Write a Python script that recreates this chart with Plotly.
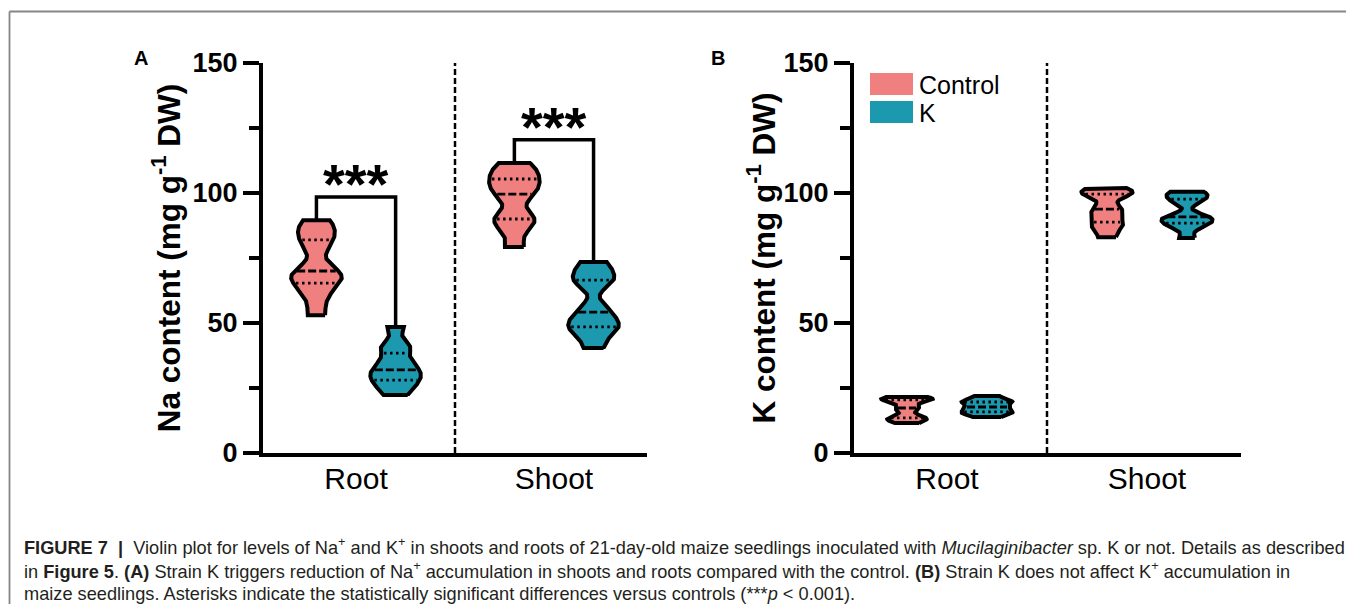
import numpy as np
import plotly.graph_objects as go

# ---------------- data ----------------
CATEGORIES = ["Root", "Shoot"]
SERIES = ["Control", "K"]

# Panel A: Na content (mg g-1 DW), individual samples
NA_ROOT_CONTROL = [53.0, 60.0, 65.0, 66.5, 69.0, 71.0, 79.0, 83.0, 86.0, 89.5]
NA_ROOT_K = [22.3, 25.5, 27.5, 29.5, 31.0, 33.0, 35.5, 39.4, 42.0, 48.5]
NA_SHOOT_CONTROL = [79.2, 86.0, 89.5, 91.5, 98.0, 101.2, 103.5, 106.0, 108.5, 111.5]
NA_SHOOT_K = [40.4, 46.0, 48.0, 50.0, 52.5, 55.9, 65.0, 67.0, 70.0, 73.5]

# Panel B: K content (mg g-1 DW), individual samples
K_ROOT_CONTROL = [11.5, 12.8, 13.2, 14.4, 16.6, 18.0, 19.8, 20.6, 21.0, 21.5]
K_ROOT_K = [13.8, 15.0, 15.6, 16.4, 17.3, 18.1, 19.1, 19.8, 20.5, 21.9]
K_SHOOT_CONTROL = [83.0, 86.5, 88.2, 90.6, 92.8, 94.8, 98.7, 99.9, 100.8, 101.9]
K_SHOOT_K = [82.7, 87.0, 88.0, 89.6, 90.3, 91.3, 96.5, 98.0, 99.6, 100.5]

SIGNIF_A = ["***", "***"]  # per category in panel A

Y_TICKS = [0, 50, 100, 150]
Y_MINOR_TICKS = [25, 75, 125]
Y_TITLE_A = "Na content (mg g<sup>-1</sup> DW)"
Y_TITLE_B = "K content (mg g<sup>-1</sup> DW)"

CAPTION_1 = ("<b>FIGURE 7  |</b>  Violin plot for levels of Na<sup>+</sup> and K<sup>+</sup> in shoots and roots of "
             "21-day-old maize seedlings inoculated with <i>Mucilaginibacter</i> sp. K or not. Details as described")
CAPTION_2 = ("in <b>Figure 5</b>. <b>(A)</b> Strain K triggers reduction of Na<sup>+</sup> accumulation in shoots and "
             "roots compared with the control. <b>(B)</b> Strain K does not affect K<sup>+</sup> accumulation in")
CAPTION_3 = ("maize seedlings. Asterisks indicate the statistically significant differences versus controls "
             "(***<i>p</i> &lt; 0.001).")

# ---------------- styling ----------------
W, H = 1346, 604
COLORS = {"Control": "#F07F80", "K": "#1C98AF"}
OFFSETS = {"Control": -0.2, "K": 0.2}
HALF_W = 0.128
BW_FRAC = 0.09
FONT = "Liberation Sans, Arial, sans-serif"


def fx(px):
    return px / W


def fy(py):
    return 1 - py / H


fig = go.Figure()

panels = {
    "A": dict(xa="x", ya="y",
              data={("Root", "Control"): NA_ROOT_CONTROL, ("Root", "K"): NA_ROOT_K,
                    ("Shoot", "Control"): NA_SHOOT_CONTROL, ("Shoot", "K"): NA_SHOOT_K}),
    "B": dict(xa="x2", ya="y2",
              data={("Root", "Control"): K_ROOT_CONTROL, ("Root", "K"): K_ROOT_K,
                    ("Shoot", "Control"): K_SHOOT_CONTROL, ("Shoot", "K"): K_SHOOT_K}),
}


def kde(vals, grid, bw):
    v = np.asarray(vals)[:, None]
    return np.exp(-0.5 * ((grid[None, :] - v) / bw) ** 2).sum(axis=0)


for pname, p in panels.items():
    for ci, cat in enumerate(CATEGORIES):
        for s in SERIES:
            vals = np.asarray(p["data"][(cat, s)], dtype=float)
            lo, hi = vals.min(), vals.max()
            bw = BW_FRAC * (hi - lo)
            grid = np.linspace(lo, hi, 300)
            d = kde(vals, grid, bw)
            scale = HALF_W / d.max()
            hw = d * scale
            c = ci + OFFSETS[s]
            xs = np.concatenate([c + hw, (c - hw)[::-1], [c + hw[0]]])
            ys = np.concatenate([grid, grid[::-1], [grid[0]]])
            fig.add_trace(go.Scatter(x=xs, y=ys, mode="lines", fill="toself",
                                     fillcolor=COLORS[s],
                                     line=dict(color="black", width=4),
                                     xaxis=p["xa"], yaxis=p["ya"],
                                     showlegend=False, hoverinfo="skip"))
            q1, med, q3 = np.percentile(vals, [25, 50, 75])
            for q, dash in [(q1, "2.5px,3.5px"), (q3, "2.5px,3.5px"), (med, "8px,3px")]:
                w = kde(vals, np.array([q]), bw)[0] * scale
                fig.add_trace(go.Scatter(x=[c - w + 0.014, c + w - 0.014], y=[q, q], mode="lines",
                                         line=dict(color="black", width=2.8, dash=dash),
                                         xaxis=p["xa"], yaxis=p["ya"],
                                         showlegend=False, hoverinfo="skip"))

# significance brackets (panel A)
for ci, cat in enumerate(CATEGORIES):
    a = NA_ROOT_CONTROL if cat == "Root" else NA_SHOOT_CONTROL
    b = NA_ROOT_K if cat == "Root" else NA_SHOOT_K
    top = max(max(a), max(b)) + 9
    xl, xr = ci + OFFSETS["Control"], ci + OFFSETS["K"]
    fig.add_trace(go.Scatter(x=[xl, xl, xr, xr], y=[max(a), top, top, max(b)], mode="lines",
                             line=dict(color="black", width=3.5), xaxis="x", yaxis="y",
                             showlegend=False, hoverinfo="skip"))
    fig.add_annotation(x=(xl + xr) / 2, y=top, xref="x", yref="y", text="<b>%s</b>" % SIGNIF_A[ci],
                       showarrow=False, yanchor="middle", yshift=13,
                       font=dict(family=FONT, size=56, color="black"))

# dashed dividers
for xa, ya in [("x", "y"), ("x2", "y2")]:
    fig.add_shape(type="line", x0=0.5, x1=0.5, y0=0, y1=150, xref=xa, yref=ya,
                  line=dict(color="black", width=2.5, dash="6px,3px"))

axis_common = dict(showline=True, linecolor="black", linewidth=4, showgrid=False, zeroline=False,
                   automargin=False)
xcommon = dict(axis_common, tickvals=[0, 1], ticktext=CATEGORIES, ticks="",
               tickfont=dict(family=FONT, size=30, color="black"), ticklabelstandoff=-4)
ycommon = dict(axis_common, range=[0, 150], tickvals=Y_TICKS, ticks="outside", ticklen=16,
               tickwidth=3.5, tickcolor="black",
               tickfont=dict(family=FONT, size=27, color="black", weight="bold"),
               minor=dict(tickvals=Y_MINOR_TICKS, ticks="outside", ticklen=10, tickwidth=3.5,
                          tickcolor="black"),
               title=dict(font=dict(family=FONT, size=31.5, color="black", weight="bold"), standoff=4))

fig.update_layout(
    width=W, height=H, paper_bgcolor="white", plot_bgcolor="white",
    margin=dict(l=0, r=0, t=0, b=0, autoexpand=False),
    xaxis=dict(xcommon, domain=[fx(263), fx(647)], range=[-0.47, 1.47]),
    yaxis=dict(ycommon, domain=[fy(453), fy(63)], anchor="x",
               title=dict(ycommon["title"], text=Y_TITLE_A)),
    xaxis2=dict(xcommon, domain=[fx(854), fx(1241)], range=[-0.465, 1.47], anchor="y2"),
    yaxis2=dict(ycommon, domain=[fy(453), fy(63)], anchor="x2",
                title=dict(ycommon["title"], text=Y_TITLE_B, standoff=0)),
    showlegend=False,
)

# legend (panel B)
for i, s in enumerate(SERIES):
    y0 = 73 + i * 28
    fig.add_shape(type="rect", xref="paper", yref="paper", x0=fx(870), x1=fx(913),
                  y0=fy(y0), y1=fy(y0 + 22), fillcolor=COLORS[s], line=dict(width=0))
    fig.add_annotation(xref="paper", yref="paper", x=fx(917), y=fy(y0 + 12), text=s,
                       showarrow=False, xanchor="left", yanchor="middle",
                       font=dict(family=FONT, size=25, color="black"))

# panel letters
for lbl, px in [("A", 132), ("B", 718)]:
    fig.add_annotation(xref="paper", yref="paper", x=fx(px), y=fy(45), text="<b>%s</b>" % lbl,
                       showarrow=False, font=dict(family=FONT, size=20, color="black"))

# frame
fig.add_shape(type="line", xref="paper", yref="paper", x0=fx(9.5), x1=1, y0=fy(11.5), y1=fy(11.5),
              line=dict(color="#858585", width=1.8))
fig.add_shape(type="line", xref="paper", yref="paper", x0=fx(9.5), x1=fx(9.5), y0=fy(11.5), y1=0,
              line=dict(color="#858585", width=1.8))

# caption
for i, t in enumerate([CAPTION_1, CAPTION_2, CAPTION_3]):
    fig.add_annotation(xref="paper", yref="paper", x=fx(22), y=fy(546 + i * 24), text=t,
                       showarrow=False, xanchor="left", yanchor="middle", align="left",
                       font=dict(family=FONT, size=18.2, color="#231f20"))

fig.write_html("out.html", config={"displayModeBar": False},
               post_script="document.body.style.margin='0px';document.body.style.overflow='hidden';")
